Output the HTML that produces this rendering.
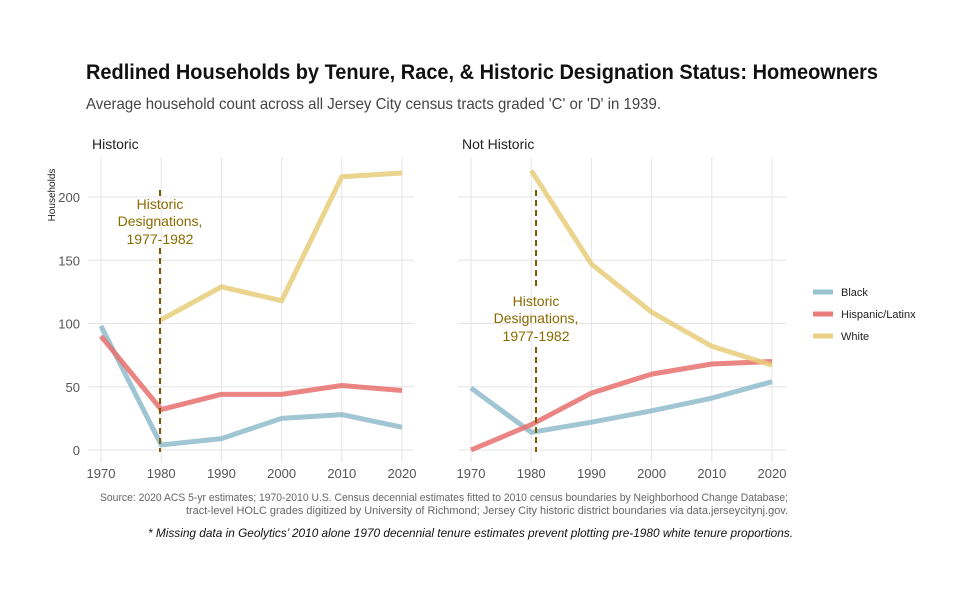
<!DOCTYPE html>
<html><head><meta charset="utf-8"><style>
body{margin:0;background:#fff}
svg{display:block}
text{font-family:"Liberation Sans Narrow","Liberation Sans",sans-serif}
</style></head><body>
<svg id="chart" width="960" height="600" viewBox="0 0 960 600">
<rect width="960" height="600" fill="#fff"/>
<text x="86" y="79" font-size="21" font-weight="bold" fill="#111" textLength="792" lengthAdjust="spacingAndGlyphs">Redlined Households by Tenure, Race, &amp; Historic Designation Status: Homeowners</text>
<text x="86" y="109" font-size="16" fill="#444" textLength="575" lengthAdjust="spacingAndGlyphs">Average household count across all Jersey City census tracts graded 'C' or 'D' in 1939.</text>
<text x="92" y="149" font-size="14" fill="#222">Historic</text>
<text x="462" y="149" font-size="14" fill="#222">Not Historic</text>
<text transform="translate(55,195) rotate(-90)" font-size="10" fill="#222" text-anchor="middle">Households</text>
<g id="plots"></g>
<g>
<line x1="813" y1="292" x2="833" y2="292" stroke="#8fbccc" stroke-width="5" opacity=".9"/>
<text x="841" y="296" font-size="11" fill="#222">Black</text>
<line x1="813" y1="314" x2="833" y2="314" stroke="#e6706e" stroke-width="5" opacity=".9"/>
<text x="841" y="318" font-size="11" fill="#222">Hispanic/Latinx</text>
<line x1="813" y1="336" x2="833" y2="336" stroke="#e8cd7a" stroke-width="5" opacity=".9"/>
<text x="841" y="340" font-size="11" fill="#222">White</text>
</g>
<text x="788" y="501" font-size="11" fill="#666" text-anchor="end" textLength="688" lengthAdjust="spacingAndGlyphs">Source: 2020 ACS 5-yr estimates; 1970-2010 U.S. Census decennial estimates fitted to 2010 census boundaries by Neighborhood Change Database;</text>
<text x="788" y="514" font-size="11" fill="#666" text-anchor="end" textLength="602" lengthAdjust="spacingAndGlyphs">tract-level HOLC grades digitized by University of Richmond; Jersey City historic district boundaries via data.jerseycitynj.gov.</text>
<text x="793" y="537" font-size="12" font-style="italic" fill="#111" text-anchor="end" textLength="645" lengthAdjust="spacingAndGlyphs">* Missing data in Geolytics’ 2010  alone 1970 decennial tenure estimates prevent plotting pre-1980 white tenure proportions.</text>
</svg>
<script>
const years=[1970,1980,1990,2000,2010,2020];
const yTicks=[0,50,100,150,200];
const histBlack=[98,4,9,25,28,18];
const histHisp=[90,32,44,44,51,47];
const histWhite=[null,103,129,118,216,219];
const nonBlack=[49,14,22,31,41,54];
const nonHisp=[0,20,45,60,68,70];
const nonWhite=[null,221,147,109,82,67];
const designYear=[1979.8,1980.8];
const NS='http://www.w3.org/2000/svg';
const root=document.getElementById('plots');
function mk(tag,attrs,parent){const e=document.createElementNS(NS,tag);for(const k in attrs)e.setAttribute(k,attrs[k]);(parent||root).appendChild(e);return e;}
const yS=v=>450-v*1.265;
const panels=[
 {x0:101,left:88,right:414,name:'historic',series:[histBlack,histHisp,histWhite],dash:designYear[0],ly:[200,248],ty:[209,226,244],axis:true},
 {x0:471,left:458,right:786,name:'not-historic',series:[nonBlack,nonHisp,nonWhite],dash:designYear[1],ly:[290,347],ty:[306,323,341],axis:false}
];
const colors=['#8fbccc','#e6706e','#e8cd7a'];
const snames=['black','hispanic','white'];
panels.forEach(p=>{
 const xS=yr=>p.x0+(yr-1970)*6.02;
 const g=mk('g',{});
 
 
 yTicks.forEach(t=>{
  const l=mk('line',{x1:p.left,x2:p.right,y1:yS(t),y2:yS(t),stroke:'#e5e5e5','stroke-width':1},g);
  
  
  if(p.axis){const tx=mk('text',{x:80,y:yS(t)+5,'font-size':13,fill:'#555','text-anchor':'end'},g);tx.textContent=t;
   
   }
 });
 years.forEach(yr=>{
  const l=mk('line',{x1:xS(yr),x2:xS(yr),y1:157,y2:462,stroke:'#e5e5e5','stroke-width':1},g);
  
  
  const tx=mk('text',{x:xS(yr),y:478,'font-size':13,fill:'#555','text-anchor':'middle'},g);tx.textContent=yr;
  
  
 });
 p.series.forEach((s,i)=>{
  let d='';s.forEach((v,j)=>{if(v===null)return;d+=(d?'L':'M')+xS(years[j])+','+yS(v);});
  const pa=mk('path',{d:d,fill:'none',stroke:colors[i],'stroke-width':5,'stroke-opacity':0.85,'stroke-linejoin':'round'},g);
  
  
 });
 const dx=xS(p.dash);
 const d1=mk('line',{x1:dx,x2:dx,y1:190,y2:p.ly[0],stroke:'#7a5a00','stroke-width':2,'stroke-dasharray':'6,4'},g);
 
 
 const d2=mk('line',{x1:dx,x2:dx,y1:p.ly[1],y2:yS(0)+2,stroke:'#7a5a00','stroke-width':2,'stroke-dasharray':'6,4'},g);
 
 
 ['Historic','Designations,','1977-1982'].forEach((t,k)=>{
  const tx=mk('text',{x:dx,y:p.ty[k],'font-size':14,fill:'#8a6a00','text-anchor':'middle'},g);tx.textContent=t;
  
  
 });
});
</script>
</body></html>
